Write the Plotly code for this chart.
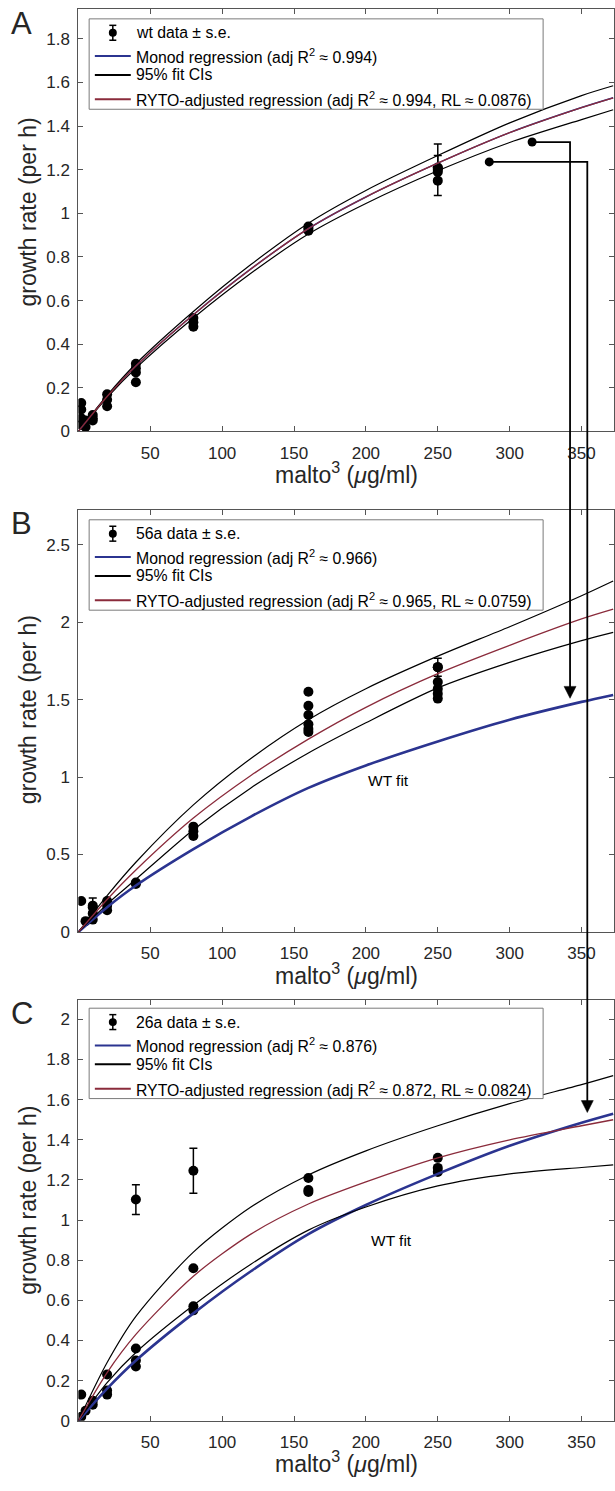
import plotly.graph_objects as go

# ---------------- data ----------------
fit_x = [0, 20, 40, 80, 120, 160, 200, 250, 300, 350, 372]

# WT Monod fit (panel A, also drawn as "WT fit" in B and C)
wt_fit = [0, 0.16, 0.30, 0.535, 0.745, 0.93, 1.075, 1.23, 1.37, 1.485, 1.53]
a_ryto = [0, 0.16, 0.30, 0.535, 0.745, 0.93, 1.075, 1.23, 1.37, 1.485, 1.53]
a_ci_hi = [0, 0.165, 0.31, 0.55, 0.765, 0.955, 1.105, 1.265, 1.415, 1.54, 1.585]
a_ci_lo = [0, 0.155, 0.29, 0.52, 0.725, 0.905, 1.045, 1.195, 1.325, 1.43, 1.475]

b_ryto = [0, 0.21, 0.40, 0.735, 1.01, 1.245, 1.45, 1.667, 1.85, 2.02, 2.083]
b_ci_hi = [0, 0.235, 0.45, 0.82, 1.12, 1.37, 1.57, 1.78, 1.97, 2.17, 2.265]
b_ci_lo = [0, 0.18, 0.34, 0.66, 0.93, 1.155, 1.35, 1.575, 1.74, 1.88, 1.933]

c_ryto = [0, 0.24, 0.43, 0.72, 0.93, 1.08, 1.19, 1.31, 1.40, 1.47, 1.50]
c_ci_hi = [0, 0.29, 0.52, 0.84, 1.065, 1.225, 1.345, 1.47, 1.58, 1.675, 1.72]
c_ci_lo = [0, 0.19, 0.34, 0.575, 0.78, 0.95, 1.065, 1.17, 1.23, 1.262, 1.275]

# replicate data points
a_x = [2, 2, 2, 2, 5, 5, 10, 10, 10, 20, 20, 20, 40, 40, 40, 40, 80, 80, 80, 160, 160, 160, 250, 250, 250]
a_y = [0.13, 0.10, 0.06, 0.03, 0.05, 0.02, 0.075, 0.05, 0.06, 0.17, 0.145, 0.115,
       0.31, 0.29, 0.27, 0.225, 0.52, 0.50, 0.48, 0.94, 0.93, 0.92, 1.21, 1.19, 1.15]
a_err_x = [250, 250]
a_err_y = [1.20, 1.208]
a_err = [0.118, 0.057]

b_x = [2, 5, 10, 10, 10, 20, 20, 20, 40, 40, 80, 80, 80,
       160, 160, 160, 160, 160, 160, 250, 250, 250, 250, 250]
b_y = [0.20, 0.07, 0.17, 0.12, 0.08, 0.20, 0.17, 0.14, 0.32, 0.31, 0.68, 0.65, 0.62,
       1.55, 1.46, 1.40, 1.34, 1.31, 1.29, 1.709, 1.613, 1.57, 1.538, 1.506]
b_err_x = [10, 250]
b_err_y = [0.16, 1.709]
b_err = [0.06, 0.058]

c_x = [2, 2, 5, 10, 10, 20, 20, 20, 40, 40, 40, 80, 80, 80, 160, 160, 160, 250, 250, 250]
c_y = [0.13, 0.02, 0.05, 0.10, 0.08, 0.23, 0.15, 0.13, 0.36, 0.30, 0.27, 0.76, 0.57, 0.55,
       1.21, 1.15, 1.14, 1.31, 1.26, 1.24]
c_err_x = [40, 80]
c_err_y = [1.102, 1.246]
c_err = [0.074, 0.112]

# arrow markers (start in panel A, tip on the WT fit in panels B / C)
arrow_start_x = [315.6, 285.8]
arrow_start_y = [1.327, 1.236]
arrow_tip_x = [342, 354]
arrow_tip_y = [1.508, 1.536]
arrow_tip_panel = [1, 2]

# "WT fit" label positions in panels B and C
wt_label_x = [216, 218]
wt_label_y = [0.98, 0.90]

x_ticks = [50, 100, 150, 200, 250, 300, 350]
x_tick_labels = ["50", "100", "150", "200", "250", "300", "350"]
a_ticks = [0, 0.2, 0.4, 0.6, 0.8, 1.0, 1.2, 1.4, 1.6, 1.8]
a_tick_labels = ["0", "0.2", "0.4", "0.6", "0.8", "1", "1.2", "1.4", "1.6", "1.8"]
b_ticks = [0, 0.5, 1.0, 1.5, 2.0, 2.5]
b_tick_labels = ["0", "0.5", "1", "1.5", "2", "2.5"]
c_ticks = [0, 0.2, 0.4, 0.6, 0.8, 1.0, 1.2, 1.4, 1.6, 1.8, 2.0]
c_tick_labels = ["0", "0.2", "0.4", "0.6", "0.8", "1", "1.2", "1.4", "1.6", "1.8", "2"]

strain_names = ["wt", "56a", "26a"]
monod_r2 = ["0.994", "0.966", "0.876"]
ryto_r2 = ["0.994", "0.965", "0.872"]
ryto_rl = ["0.0876", "0.0759", "0.0824"]
panel_letters = ["A", "B", "C"]

# ---------------- layout geometry ----------------
W, H = 615, 1491
X0_PX, X1_PX = 78.5, 615.0
X_RANGE = [0, (X1_PX - X0_PX) / 1.44]
PANEL_PX = [(9.3, 434.3), (513.3, 938.3), (1006.7, 1430.3)]
Y_RANGES = [[0, 1.936], [0, 2.724], [0, 2.097]]

FONT = "Liberation Sans, Arial, Helvetica, sans-serif"
BLUE = "#2B3490"
RED = "#8A2B3B"
AXC = "#555555"
TXT = "#262626"


def px_x(v):
    return X0_PX + (v - X_RANGE[0]) / (X_RANGE[1] - X_RANGE[0]) * (X1_PX - X0_PX)


def px_y(panel, v):
    top, bot = PANEL_PX[panel]
    r0, r1 = Y_RANGES[panel]
    return bot - (v - r0) / (r1 - r0) * (bot - top)


def PX(x):
    return x / W


def PY(y):
    return 1 - y / H


fig = go.Figure()

panels = [
    (wt_fit, a_ryto, a_ci_hi, a_ci_lo, a_x, a_y, a_err_x, a_err_y, a_err, 1.5),
    (wt_fit, b_ryto, b_ci_hi, b_ci_lo, b_x, b_y, b_err_x, b_err_y, b_err, 2.6),
    (wt_fit, c_ryto, c_ci_hi, c_ci_lo, c_x, c_y, c_err_x, c_err_y, c_err, 2.6),
]

for i, (blue, red, hi, lo, dx, dy, ex, ey, ee, bw) in enumerate(panels):
    xa = "x" if i == 0 else f"x{i+1}"
    ya = "y" if i == 0 else f"y{i+1}"
    common = dict(xaxis=xa, yaxis=ya, showlegend=False, hoverinfo="skip")
    fig.add_trace(go.Scatter(x=dx, y=dy, mode="markers",
                             marker=dict(color="black", size=10), **common))
    fig.add_trace(go.Scatter(x=ex, y=ey, mode="markers",
                             marker=dict(color="black", size=10),
                             error_y=dict(type="data", array=ee, color="black",
                                          thickness=1.5, width=4), **common))
    fig.add_trace(go.Scatter(x=fit_x, y=blue, mode="lines",
                             line=dict(color=BLUE, width=bw, shape="spline", smoothing=0.8), **common))
    fig.add_trace(go.Scatter(x=fit_x, y=hi, mode="lines",
                             line=dict(color="black", width=1.2, shape="spline", smoothing=0.8), **common))
    fig.add_trace(go.Scatter(x=fit_x, y=lo, mode="lines",
                             line=dict(color="black", width=1.2, shape="spline", smoothing=0.8), **common))
    fig.add_trace(go.Scatter(x=fit_x, y=red, mode="lines",
                             line=dict(color=RED, width=1.3, shape="spline", smoothing=0.8), **common))

# arrow start dots
fig.add_trace(go.Scatter(x=arrow_start_x, y=arrow_start_y, mode="markers",
                         marker=dict(color="black", size=9), xaxis="x", yaxis="y",
                         showlegend=False, hoverinfo="skip"))

axis_common = dict(showline=True, linecolor=AXC, linewidth=1, mirror="ticks",
                   ticks="inside", ticklen=5, tickwidth=1, tickcolor=AXC,
                   showgrid=False, zeroline=False,
                   tickfont=dict(family=FONT, size=17, color=TXT))

y_tick_sets = [(a_ticks, a_tick_labels), (b_ticks, b_tick_labels), (c_ticks, c_tick_labels)]
layout = {}
for i in range(3):
    top, bot = PANEL_PX[i]
    sfx = "" if i == 0 else str(i + 1)
    layout[f"xaxis{sfx}"] = dict(domain=[PX(X0_PX), 1.0], range=X_RANGE,
                                  anchor=f"y{sfx}", tickvals=x_ticks,
                                  ticktext=x_tick_labels, ticklabelstandoff=6,
                                  **axis_common)
    layout[f"yaxis{sfx}"] = dict(domain=[PY(bot), PY(top)], range=Y_RANGES[i],
                                  anchor=f"x{sfx}", tickvals=y_tick_sets[i][0],
                                  ticktext=y_tick_sets[i][1], ticklabelstandoff=4,
                                  **axis_common)

shapes = []
annotations = []

# axis titles and panel letters
ytitle_centers = [213, 714, 1208]
for i in range(3):
    top, bot = PANEL_PX[i]
    annotations.append(dict(text="malto<sup>3</sup> (<i>μ</i>g/ml)", x=PX((X0_PX + X1_PX) / 2),
                            y=PY(bot + 42), xref="paper", yref="paper",
                            xanchor="center", yanchor="middle", showarrow=False,
                            font=dict(family=FONT, size=23, color=TXT)))
    annotations.append(dict(text="growth rate (per h)", x=PX(28), y=PY(ytitle_centers[i]),
                            xref="paper", yref="paper", textangle=-90,
                            xanchor="center", yanchor="middle", showarrow=False,
                            font=dict(family=FONT, size=23, color=TXT)))
    annotations.append(dict(text=panel_letters[i], x=PX(22), y=PY(top + 14),
                            xref="paper", yref="paper", xanchor="center",
                            yanchor="middle", showarrow=False,
                            font=dict(family=FONT, size=31, color=TXT)))

# "WT fit" labels
for k, i in enumerate((1, 2)):
    sfx = str(i + 1)
    annotations.append(dict(text="WT fit", x=wt_label_x[k], y=wt_label_y[k],
                            xref=f"x{sfx}", yref=f"y{sfx}", showarrow=False,
                            xanchor="center", yanchor="middle",
                            font=dict(family=FONT, size=15.5, color="black")))

# legends (drawn manually to match the MATLAB boxes)
LEG_L, LEG_R = 89.3, 544.0
leg_tops = [19.0, 523.3, 1015.0]
for i in range(3):
    t = leg_tops[i]
    shapes.append(dict(type="rect", xref="paper", yref="paper",
                       x0=PX(LEG_L), x1=PX(LEG_R), y0=PY(t + 91), y1=PY(t),
                       line=dict(color="#7a7a7a", width=1), fillcolor="white",
                       layer="above"))
    rows = [t + 14, t + 37.5, t + 56.5, t + 81]
    texts = [f"{strain_names[i]} data ± s.e.",
             f"Monod regression (adj R<sup>2</sup> ≈ {monod_r2[i]})",
             "95% fit CIs",
             f"RYTO-adjusted regression (adj R<sup>2</sup> ≈ {ryto_r2[i]}, RL ≈ {ryto_rl[i]})"]
    # data symbol with error bar
    cx, cy = 113, rows[0]
    shapes.append(dict(type="line", xref="paper", yref="paper", x0=PX(cx), x1=PX(cx),
                       y0=PY(cy - 7.5), y1=PY(cy + 7.5), line=dict(color="black", width=1.5),
                       layer="above"))
    for dy in (-7.5, 7.5):
        shapes.append(dict(type="line", xref="paper", yref="paper", x0=PX(cx - 3.5),
                           x1=PX(cx + 3.5), y0=PY(cy + dy), y1=PY(cy + dy),
                           line=dict(color="black", width=1.5), layer="above"))
    shapes.append(dict(type="circle", xref="paper", yref="paper", x0=PX(cx - 4),
                       x1=PX(cx + 4), y0=PY(cy + 4), y1=PY(cy - 4),
                       fillcolor="black", line=dict(color="black", width=0), layer="above"))
    for r, col in zip(rows[1:], [BLUE, "black", RED]):
        shapes.append(dict(type="line", xref="paper", yref="paper", x0=PX(95), x1=PX(131),
                           y0=PY(r), y1=PY(r), line=dict(color=col, width=2), layer="above"))
    for r, txt in zip(rows, texts):
        annotations.append(dict(text=txt, x=PX(134), y=PY(r), xref="paper", yref="paper",
                                xanchor="left", yanchor="middle", showarrow=False,
                                font=dict(family=FONT, size=15.8, color="black")))

# arrows from panel A to the WT fit in panels B and C
for k in range(2):
    sx, sy = px_x(arrow_start_x[k]), px_y(0, arrow_start_y[k])
    tx, ty = px_x(arrow_tip_x[k]), px_y(arrow_tip_panel[k], arrow_tip_y[k])
    path = f"M{PX(sx)},{PY(sy)} L{PX(tx)},{PY(sy)} L{PX(tx)},{PY(ty - 10)}"
    shapes.append(dict(type="path", xref="paper", yref="paper", path=path,
                       line=dict(color="black", width=1.8), layer="above"))
    tri = (f"M{PX(tx)},{PY(ty)} L{PX(tx - 6)},{PY(ty - 12)} "
           f"L{PX(tx + 6)},{PY(ty - 12)} Z")
    shapes.append(dict(type="path", xref="paper", yref="paper", path=tri,
                       fillcolor="black", line=dict(color="black", width=0.5),
                       layer="above"))

fig.update_layout(width=W, height=H, autosize=False,
                  margin=dict(l=0, r=0, t=0, b=0, pad=0),
                  paper_bgcolor="white", plot_bgcolor="white",
                  shapes=shapes, annotations=annotations, **layout)

fig.write_html("out.html")
